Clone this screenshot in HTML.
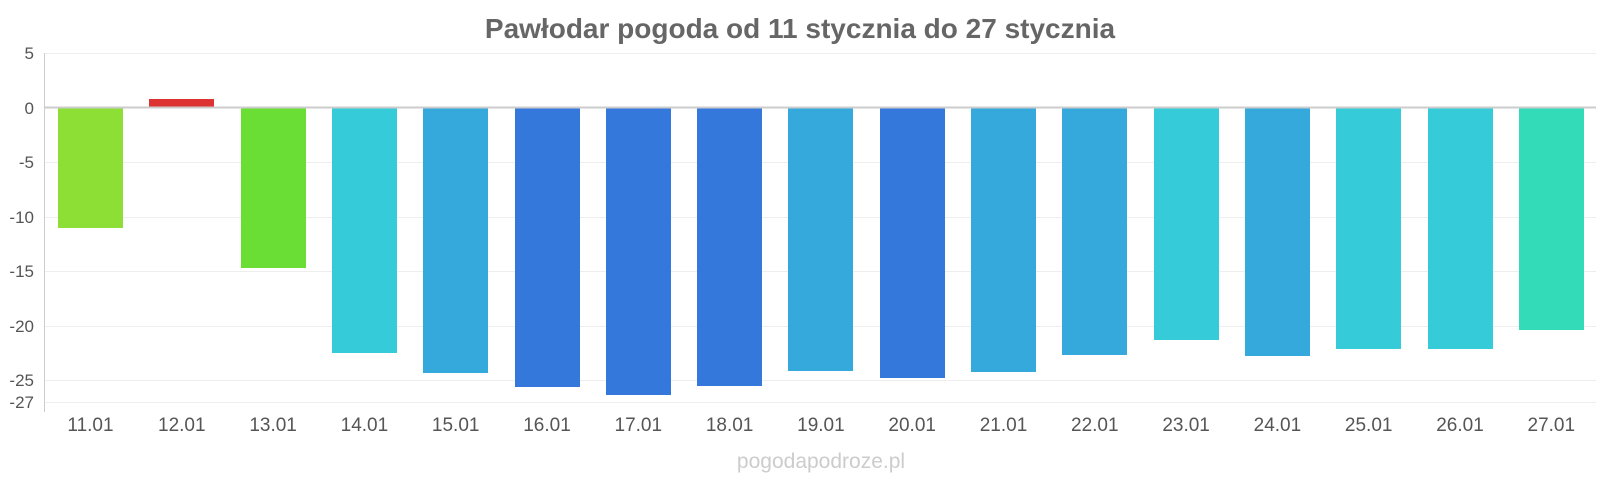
<!DOCTYPE html>
<html><head><meta charset="utf-8"><style>
html,body{margin:0;padding:0;background:#fff;}
svg{display:block;font-family:"Liberation Sans",sans-serif;}
</style></head><body>
<svg width="1600" height="480" viewBox="0 0 1600 480" xmlns="http://www.w3.org/2000/svg">
<text x="800" y="38" text-anchor="middle" font-size="28" font-weight="bold" fill="#666">Pawłodar pogoda od 11 stycznia do 27 stycznia</text>
<g stroke="#eee" stroke-width="1">
<line x1="44" x2="1596" y1="53.5" y2="53.5"/>
<line x1="44" x2="1596" y1="162.5" y2="162.5"/>
<line x1="44" x2="1596" y1="217.5" y2="217.5"/>
<line x1="44" x2="1596" y1="271.5" y2="271.5"/>
<line x1="44" x2="1596" y1="326.5" y2="326.5"/>
<line x1="44" x2="1596" y1="380.5" y2="380.5"/>
<line x1="44" x2="1596" y1="402.5" y2="402.5"/>
</g>
<line x1="44.5" x2="44.5" y1="53" y2="412" stroke="#ccc"/>
<g font-size="17" fill="#555" text-anchor="end">
<text x="34" y="59">5</text>
<text x="34" y="114">0</text>
<text x="34" y="168">-5</text>
<text x="34" y="223">-10</text>
<text x="34" y="277">-15</text>
<text x="34" y="332">-20</text>
<text x="34" y="386">-25</text>
<text x="34" y="408">-27</text>
</g>
<g>
<rect x="58" y="108" width="65" height="120" fill="#8ddf36"/>
<rect x="149" y="99" width="65" height="9" fill="#dd3333"/>
<rect x="241" y="108" width="65" height="160" fill="#6ade35"/>
<rect x="332" y="108" width="65" height="245" fill="#36cbd9"/>
<rect x="423" y="108" width="65" height="265" fill="#35a8dc"/>
<rect x="515" y="108" width="65" height="279" fill="#3578db"/>
<rect x="606" y="108" width="65" height="287" fill="#3578db"/>
<rect x="697" y="108" width="65" height="278" fill="#3578db"/>
<rect x="788" y="108" width="65" height="263" fill="#35a8dc"/>
<rect x="880" y="108" width="65" height="270" fill="#3578db"/>
<rect x="971" y="108" width="65" height="264" fill="#35a8dc"/>
<rect x="1062" y="108" width="65" height="247" fill="#35a8dc"/>
<rect x="1154" y="108" width="65" height="232" fill="#36cbd9"/>
<rect x="1245" y="108" width="65" height="248" fill="#35a8dc"/>
<rect x="1336" y="108" width="65" height="241" fill="#36cbd9"/>
<rect x="1428" y="108" width="65" height="241" fill="#36cbd9"/>
<rect x="1519" y="108" width="65" height="222" fill="#33dbb8"/>
</g>
<line x1="44" x2="1596" y1="107.5" y2="107.5" stroke="#ccc" stroke-width="2"/>
<g font-size="19" fill="#555" text-anchor="middle">
<text x="90.5" y="431">11.01</text>
<text x="181.8" y="431">12.01</text>
<text x="273.1" y="431">13.01</text>
<text x="364.4" y="431">14.01</text>
<text x="455.7" y="431">15.01</text>
<text x="547" y="431">16.01</text>
<text x="638.3" y="431">17.01</text>
<text x="729.6" y="431">18.01</text>
<text x="820.9" y="431">19.01</text>
<text x="912.2" y="431">20.01</text>
<text x="1003.5" y="431">21.01</text>
<text x="1094.8" y="431">22.01</text>
<text x="1186.1" y="431">23.01</text>
<text x="1277.4" y="431">24.01</text>
<text x="1368.7" y="431">25.01</text>
<text x="1460" y="431">26.01</text>
<text x="1551.3" y="431">27.01</text>
</g>
<text x="821" y="468" text-anchor="middle" font-size="21" fill="#ccc">pogodapodroze.pl</text>
</svg>
</body></html>
